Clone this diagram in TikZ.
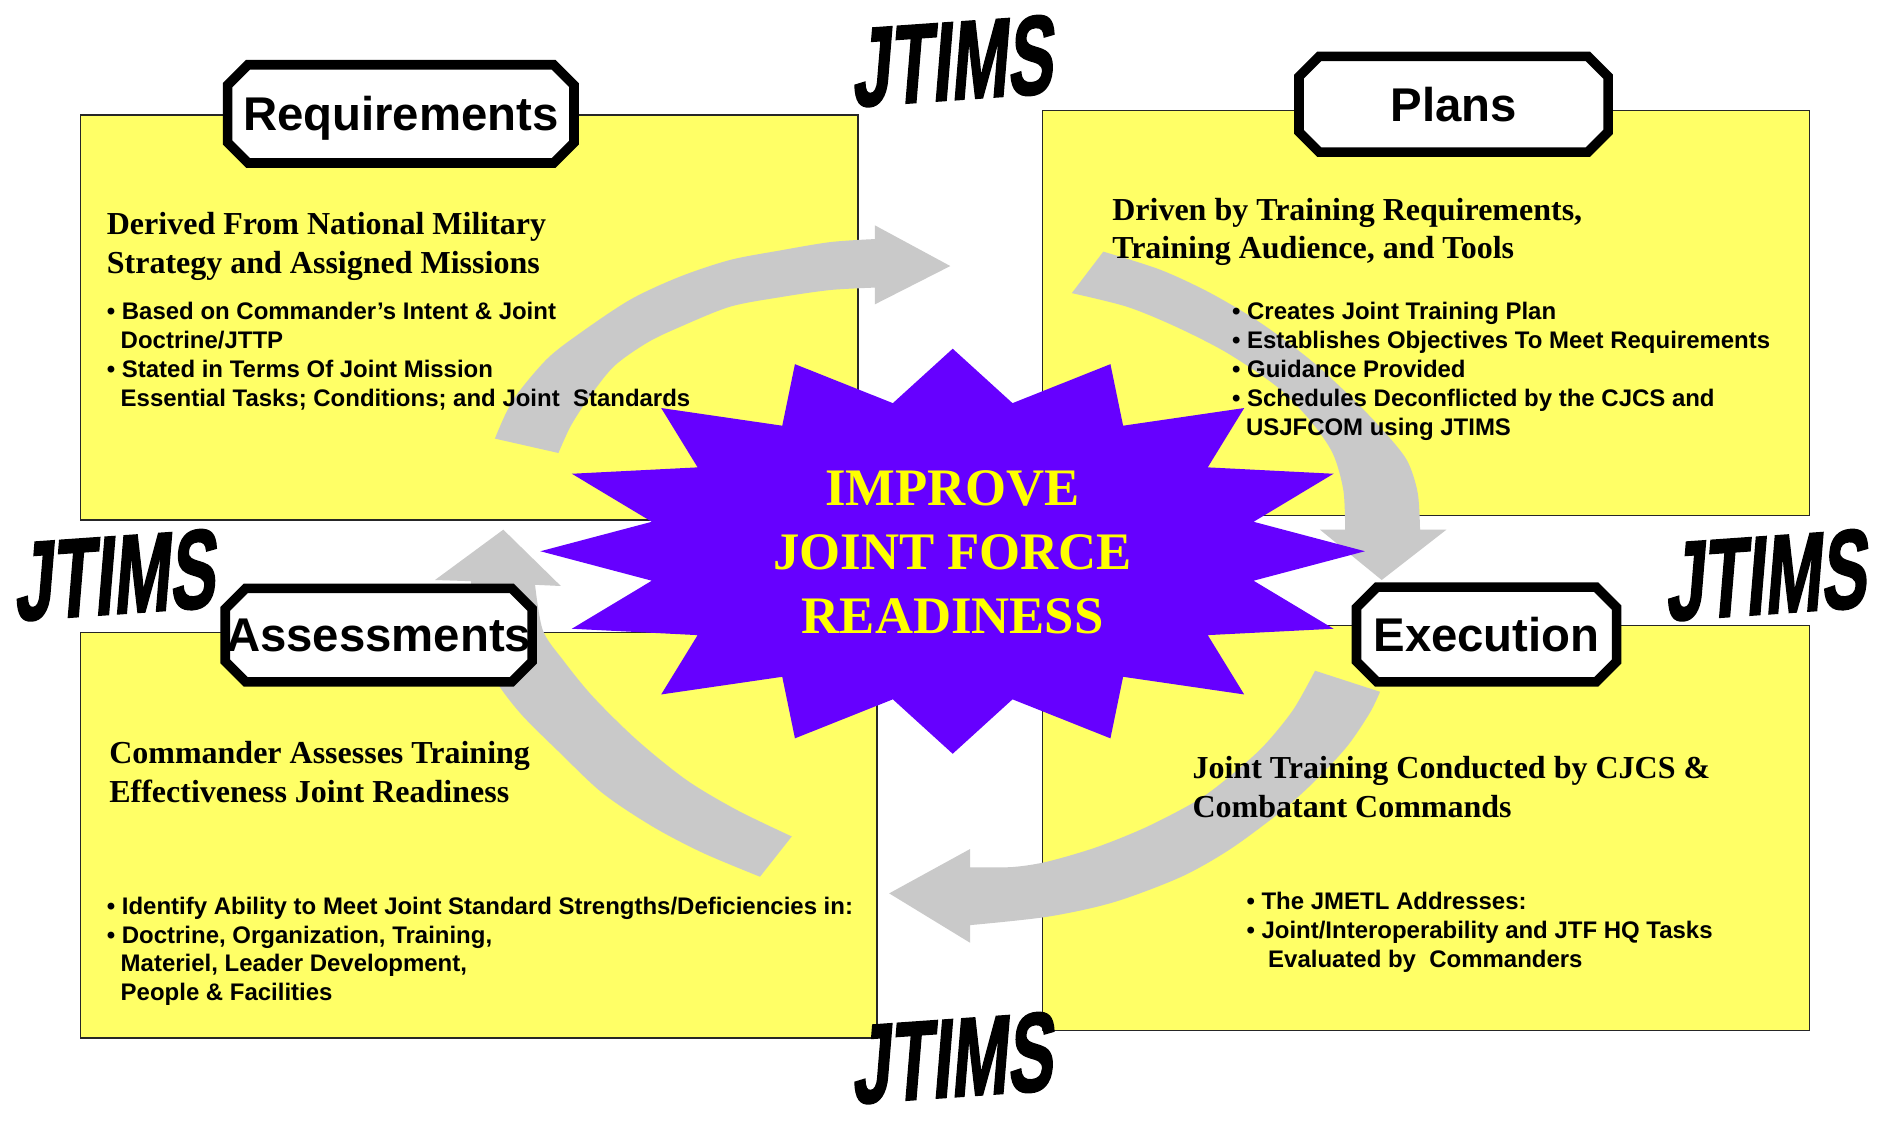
\documentclass[tikz,border=0pt]{standalone}
\usepackage{fontspec}
\usepackage{graphicx}
\setmainfont{Liberation Serif}
\newfontfamily\arial{Liberation Sans}
\newfontfamily\jtf{Liberation Sans Bold}[FakeSlant=0.25,FakeBold=2]
\definecolor{yel}{RGB}{255,255,102}
\definecolor{arrgrey}{RGB}{201,201,201}
\definecolor{starc}{RGB}{102,0,255}
\definecolor{startext}{RGB}{255,255,0}
\newcommand\bl{•\ }
\newcommand\ind{\phantom{•\ }}
\newcommand\jtword{\jtf\fontsize{60}{60}\selectfont\scalebox{0.95}[1.55]{JTIMS}}
\newcommand\labbox[6]{%
  \draw[labline] ({#2+17},#3) -- ({#4-17},#3) -- (#4,{#3+17}) -- (#4,{#5-17}) -- ({#4-17},#5) -- ({#2+17},#5) -- (#2,{#5-17}) -- (#2,{#3+17}) -- cycle;
  \node[lab] (#1) at ({(#2+#4)/2},{(#3+#5)/2+14}) {#6};}
\begin{document}
\begin{tikzpicture}[x=1pt,y=-1pt,
  ybox/.style={fill=yel,draw=black!85,line width=1.2},
  arr/.style={fill=arrgrey},
  labline/.style={draw=black,fill=white,line width=8,line join=miter},
  lab/.style={font=\arial\bfseries\fontsize{39.5}{40}\selectfont,anchor=base,inner sep=0},
  head/.style={font=\fontsize{26.7}{32}\selectfont\bfseries,anchor=base west,inner sep=0},
  bul/.style={font=\arial\bfseries\fontsize{20}{24}\selectfont,anchor=base west,inner sep=0},
  coretext/.style={font=\fontsize{44}{53.5}\selectfont\bfseries,text=startext,align=center,inner sep=0},
  jt/.style={anchor=base west,inner sep=0,text=black,rotate=4}]
\fill[white] (0,0) rectangle (1568,940);
\useasboundingbox (0,0) rectangle (1568,940);

% yellow panels
\draw[ybox] (67,96) rectangle (716,434);
\draw[ybox] (870,92) rectangle (1510,430);
\draw[ybox] (67,528) rectangle (732,866);
\draw[ybox] (870,522) rectangle (1510,860);

% grey cycle arrows
\fill[arr] plot[smooth,tension=0.5] coordinates {(413,366) (428,334) (456,300) (484,278) (526,250) (567,231) (609,217) (651,209) (693,202) (730,199.5)}
  -- (730,188) -- (793,222) -- (730,254)
  -- plot[smooth,tension=0.5] coordinates {(730,240) (693,242) (651,248) (609,256) (567,273) (540,286) (512,306) (490,334) (476,356) (466,378)} -- cycle;
\fill[arr] plot[smooth,tension=0.5] coordinates {(920.7,210) (968,225) (1010,244.5) (1052,269.5) (1093,300) (1127,331) (1154,359) (1174,384) (1183,411) (1185,442)}
  -- (1207,442) -- (1153,484) -- (1101.5,442)
  -- plot[smooth,tension=0.5] coordinates {(1122.5,442) (1121,409) (1112,378) (1093,350.5) (1066,323) (1024,294.5) (982,273) (940.5,256) (894.4,244.6)} -- cycle;
\fill[arr] plot[smooth,tension=0.5] coordinates {(1151.6,577.3) (1143,595) (1124,623) (1096,653) (1068,678) (1026,709) (985,732) (929,753) (874,765) (809.5,772)}
  -- (809.5,786.7) -- (742,745.5) -- (809.5,708.5)
  -- plot[smooth,tension=0.5] coordinates {(809.5,723.8) (845,723.5) (874,719) (915,707) (957,690) (999,668) (1026,648) (1054,623) (1079,592.5) (1097.4,559.7)} -- cycle;
\fill[arr] plot[smooth,tension=0.5] coordinates {(634.2,731.6) (586.7,711.8) (545,690) (503,662) (467,628) (434,595) (412,565) (399,530) (393,485)}
  -- (363,484) -- (420,442) -- (468,489)
  -- plot[smooth,tension=0.5] coordinates {(446.5,488) (453,526) (470,551) (495,581.6) (531.6,617.6) (573,651) (615,676) (660.7,698)} -- cycle;

% central star
\fill[starc] plot[samples at={0,...,31},variable=\i] ({795+ifthenelse(isodd(\i),256,344)*cos(\i*11.25)},{460+ifthenelse(isodd(\i),126,169)*sin(\i*11.25)}) -- cycle;
\node[coretext] (core) at (795,461) {IMPROVE\\JOINT FORCE\\READINESS};

% Requirements panel text
\node[head] (tlh1) at (89,196) {Derived From National Military};
\node[head] (tlh2) at (89,228) {Strategy and Assigned Missions};
\node[bul] (tlb1) at (89,267) {\bl Based on Commander’s Intent \& Joint};
\node[bul] (tlb2) at (88,291) {\ind Doctrine/JTTP};
\node[bul] (tlb3) at (89,315) {\bl Stated in Terms Of Joint Mission};
\node[bul] (tlb4) at (88,339) {\ind Essential Tasks; Conditions; and Joint~ Standards};

% Plans panel text
\node[head] (trh1) at (928,184) {Driven by Training Requirements,};
\node[head] (trh2) at (928,216) {Training Audience, and Tools};
\node[bul] (trb1) at (1028,267) {\bl Creates Joint Training Plan};
\node[bul] (trb2) at (1028,291) {\bl Establishes Objectives To Meet Requirements};
\node[bul] (trb3) at (1028,315) {\bl Guidance Provided};
\node[bul] (trb4) at (1028,339) {\bl Schedules Deconflicted by the CJCS and};
\node[bul] (trb5) at (1027,363) {\ind USJFCOM using JTIMS};

% Assessments panel text
\node[head] (blh1) at (91,637) {Commander Assesses Training};
\node[head] (blh2) at (91,670) {Effectiveness Joint Readiness};
\node[bul] (blb1) at (89,763) {\bl Identify Ability to Meet Joint Standard Strengths/Deficiencies in:};
\node[bul] (blb2) at (89,787) {\bl Doctrine, Organization, Training,};
\node[bul] (blb3) at (88,811) {\ind Materiel, Leader Development,};
\node[bul] (blb4) at (88,835) {\ind People \& Facilities};

% Execution panel text
\node[head] (brh1) at (995,650) {Joint Training Conducted by CJCS \&};
\node[head] (brh2) at (995,682) {Combatant Commands};
\node[bul] (brb1) at (1040,759) {\bl The JMETL Addresses:};
\node[bul] (brb2) at (1040,783) {\bl Joint/Interoperability and JTF HQ Tasks};
\node[bul] (brb3) at (1040,807) {\ind\ Evaluated by~ Commanders};

% label boxes
\labbox{req}{190}{54}{479}{136}{Requirements}
\labbox{plans}{1084}{47}{1342}{127}{Plans}
\labbox{assess}{188}{491}{444}{569}{Assessments}
\labbox{exec}{1132}{490}{1349}{569}{Execution}

% JTIMS word art
\node[jt] (jtop) at (711,89) {\jtword};
\node[jt] (jleft) at (12,518) {\jtword};
\node[jt] (jright) at (1390,518) {\jtword};
\node[jt] (jbot) at (711,921) {\jtword};
\end{tikzpicture}
\end{document}
